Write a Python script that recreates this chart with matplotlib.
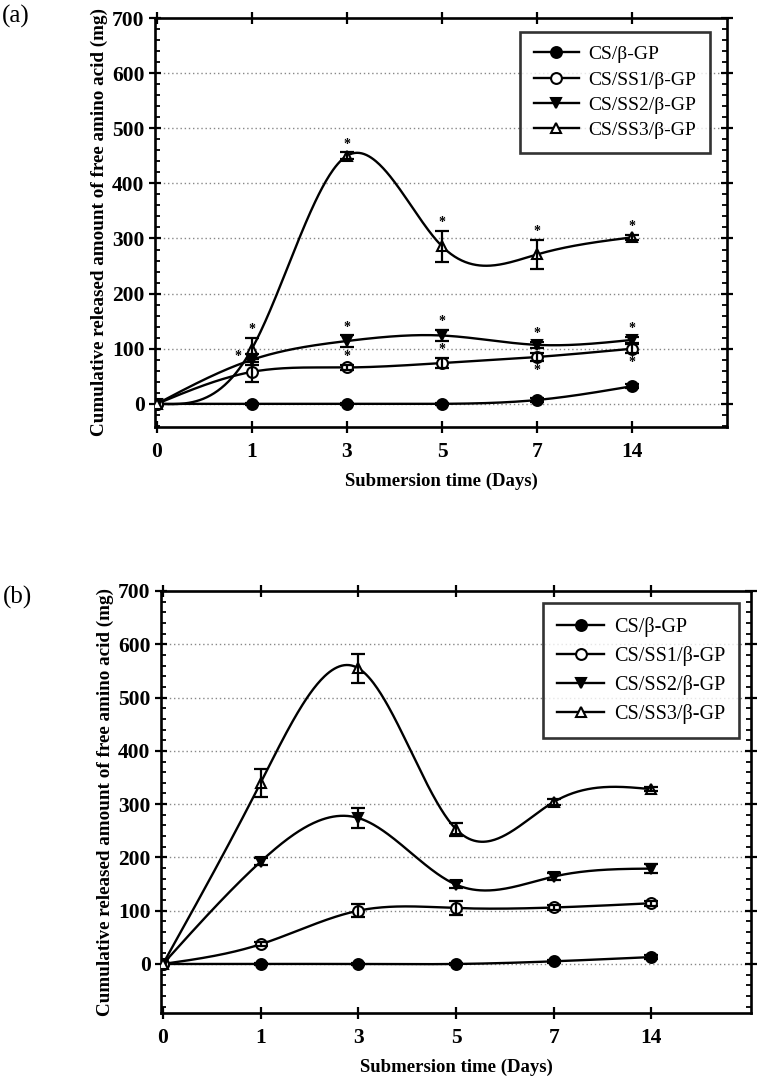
import numpy as np
import matplotlib
matplotlib.use("Agg")
import matplotlib.pyplot as plt
from matplotlib.ticker import MultipleLocator, FixedLocator, NullLocator

plt.rcParams['font.family'] = ['Liberation Serif', 'DejaVu Serif']

# ---------------- data ----------------
days = ['0', '1', '3', '5', '7', '14']
series_names = ['CS/β-GP', 'CS/SS1/β-GP', 'CS/SS2/β-GP', 'CS/SS3/β-GP']

# panel (a)
a_cs = [0, 0, 0, 0, 7, 32]
a_ss1 = [0, 58, 66, 74, 85, 100]
a_ss2 = [0, 80, 114, 124, 107, 116]
a_ss3 = [0, 100, 450, 286, 271, 302]
a_cs_err = [0, 2, 2, 2, 3, 4]
a_ss1_err = [0, 18, 5, 9, 8, 8]
a_ss2_err = [0, 10, 10, 10, 6, 6]
a_ss3_err = [0, 19, 6, 28, 27, 5]
# asterisks (series index, day index, where)
a_stars = [(3, 1, 'above'), (3, 2, 'above'), (3, 3, 'above'), (3, 4, 'above'), (3, 5, 'above'),
           (2, 1, 'left'), (2, 2, 'above'), (2, 3, 'above'), (2, 4, 'above'), (2, 5, 'above'),
           (1, 2, 'above'), (1, 3, 'above'), (1, 4, 'below'), (1, 5, 'below')]

# panel (b)
b_cs = [0, 0, 0, 0, 5, 13]
b_ss1 = [0, 37, 100, 105, 106, 114]
b_ss2 = [0, 192, 274, 149, 164, 179]
b_ss3 = [0, 340, 555, 253, 304, 328]
b_cs_err = [0, 2, 2, 2, 3, 3]
b_ss1_err = [0, 4, 12, 14, 5, 5]
b_ss2_err = [0, 6, 19, 6, 6, 8]
b_ss3_err = [0, 26, 27, 12, 5, 4]
b_stars = []

yticks = [0, 100, 200, 300, 400, 500, 600, 700]

markers = ['o', 'o', 'v', '^']
faces = ['black', 'white', 'black', 'white']


def natural_spline(x, y, xs):
    x = np.asarray(x, float)
    y = np.asarray(y, float)
    n = len(x)
    h = np.diff(x)
    A = np.zeros((n, n))
    r = np.zeros(n)
    A[0, 0] = 1
    A[-1, -1] = 1
    for i in range(1, n - 1):
        A[i, i - 1] = h[i - 1]
        A[i, i] = 2 * (h[i - 1] + h[i])
        A[i, i + 1] = h[i]
        r[i] = 3 * ((y[i + 1] - y[i]) / h[i] - (y[i] - y[i - 1]) / h[i - 1])
    c = np.linalg.solve(A, r)
    b = (y[1:] - y[:-1]) / h - h * (2 * c[:-1] + c[1:]) / 3
    d = (c[1:] - c[:-1]) / (3 * h)
    idx = np.clip(np.searchsorted(x, xs) - 1, 0, n - 2)
    dx = xs - x[idx]
    return y[idx] + b[idx] * dx + c[idx] * dx ** 2 + d[idx] * dx ** 3


def draw_panel(ax, vals, errs, stars, ylow, xhigh, legend_anchor, legsize, legspace):
    xpos = np.arange(len(days))
    xs = np.linspace(0, len(days) - 1, 400)
    for k in range(4):
        ys = natural_spline(xpos, vals[k], xs)
        ax.plot(xs, ys, color='black', lw=1.7, zorder=3)
        ax.plot(xpos, vals[k], linestyle='none', color='black',
                marker=markers[k], markerfacecolor=faces[k], markeredgecolor='black',
                markeredgewidth=1.5, markersize=7.8, zorder=4)
        ax.errorbar(xpos[1:], vals[k][1:], yerr=errs[k][1:], fmt='none', ecolor='black',
                    elinewidth=1.6, capsize=5, capthick=1.6, zorder=5)
    for (k, d, where) in stars:
        v = vals[k][d]
        e = errs[k][d]
        if where == 'above':
            ax.annotate('*', (d, v + e), xytext=(0, 6), textcoords='offset points',
                        ha='center', va='center', fontsize=10, fontweight='bold')
        elif where == 'below':
            ax.annotate('*', (d, v - e), xytext=(0, -2), textcoords='offset points',
                        ha='center', va='top', fontsize=10, fontweight='bold')
        else:
            ax.annotate('*', (d, v), xytext=(-10, 2), textcoords='offset points',
                        ha='center', va='center', fontsize=10, fontweight='bold')

    ax.set_xlim(-0.02, xhigh)
    ax.set_ylim(ylow, 700)
    ax.xaxis.set_major_locator(FixedLocator(xpos))
    ax.set_xticklabels(days)
    ax.xaxis.set_minor_locator(NullLocator())
    ax.yaxis.set_major_locator(FixedLocator(yticks))
    ax.yaxis.set_minor_locator(MultipleLocator(20))
    ax.tick_params(axis='both', which='major', direction='inout', length=9, width=1.6,
                   top=True, right=True, labelsize=15.5)
    ax.tick_params(axis='y', which='major', pad=3)
    ax.tick_params(axis='x', which='major', pad=6)
    ax.tick_params(axis='y', which='minor', direction='in', length=3.5, width=1.3,
                   left=True, right=True)
    for lab in ax.get_xticklabels() + ax.get_yticklabels():
        lab.set_fontweight('bold')
    for s in ax.spines.values():
        s.set_linewidth(1.9)
    for yv in yticks[:-1]:
        ax.axhline(yv, color='#888888', lw=1.0, linestyle=(0, (1, 2)), zorder=1)
    ax.set_xlabel('Submersion time (Days)', fontsize=13.5, fontweight='bold', labelpad=8)
    ax.set_ylabel('Cumulative released amount of free amino acid (mg)', fontsize=13.8,
                  fontweight='bold', labelpad=3)

    proxies = []
    for k in range(4):
        p, = ax.plot([], [], color='black', lw=1.7, marker=markers[k],
                     markerfacecolor=faces[k], markeredgecolor='black',
                     markeredgewidth=1.5, markersize=7.8)
        proxies.append(p)
    leg = ax.legend(proxies, series_names, loc='upper right', bbox_to_anchor=legend_anchor,
                    borderaxespad=0, fontsize=legsize, frameon=True, fancybox=False,
                    edgecolor='black', handlelength=2.3, handletextpad=0.5,
                    labelspacing=legspace, borderpad=0.7)
    leg.get_frame().set_linewidth(1.9)
    leg.set_zorder(10)


fig = plt.figure(figsize=(7.59, 10.82), dpi=100)
ax1 = fig.add_axes([155 / 759, 1 - 427 / 1082, 572 / 759, 409 / 1082])
ax2 = fig.add_axes([161 / 759, 1 - 1013 / 1082, 590 / 759, 422 / 1082])

draw_panel(ax1, [a_cs, a_ss1, a_ss2, a_ss3], [a_cs_err, a_ss1_err, a_ss2_err, a_ss3_err],
           a_stars, -42, 6.0, (0.970, 0.966), 14, 0.4)
draw_panel(ax2, [b_cs, b_ss1, b_ss2, b_ss3], [b_cs_err, b_ss1_err, b_ss2_err, b_ss3_err],
           b_stars, -92, 6.02, (0.980, 0.972), 14.5, 0.45)

fig.text(2 / 759, 1 - 16 / 1082, '(a)', fontsize=18, va='center', ha='left')
fig.text(3 / 759, 1 - 597 / 1082, '(b)', fontsize=18, va='center', ha='left')

fig.savefig('out.png', dpi=100)
